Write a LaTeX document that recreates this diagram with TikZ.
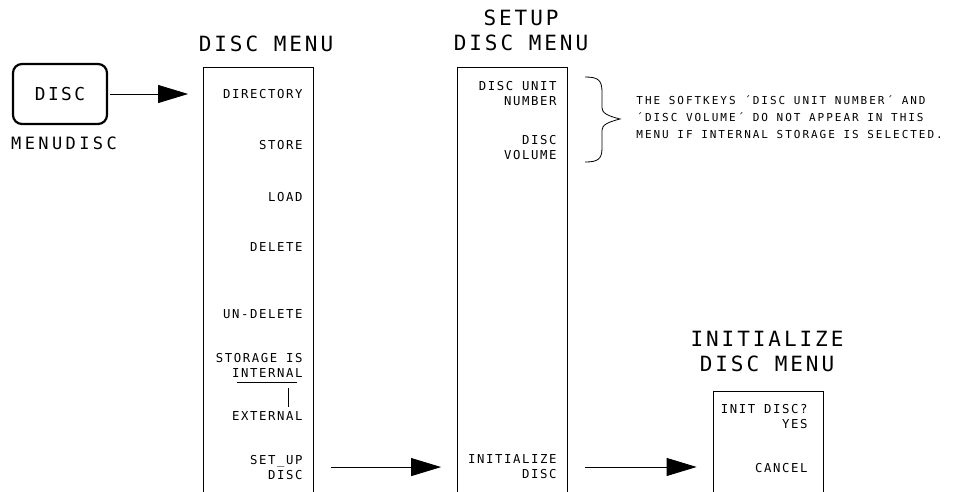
\documentclass[tikz,border=0pt]{standalone}
\usepackage{fontspec}
\usetikzlibrary{arrows.meta,positioning}
\newfontfamily\hpkeyfont{DejaVu Sans Mono}[LetterSpace=14]
\newfontfamily\hpcapfont{DejaVu Sans Mono}[LetterSpace=20]
\newfontfamily\hptitlefont{DejaVu Sans Mono}[LetterSpace=14]
\newfontfamily\hplabelfont{DejaVu Sans Mono}[LetterSpace=13]
\newfontfamily\hpnotefont{DejaVu Sans Mono}[LetterSpace=18]

\begin{document}
\begin{tikzpicture}[
  x=1pt,y=-1pt,
  line width=0.8pt,
  menubox/.style={
    draw,
    minimum width=110pt,
    minimum height=440pt,
    anchor=north,
    inner sep=0pt
  },
  softkey/.style={
    draw,
    line width=2.2pt,
    rounded corners=9pt,
    minimum width=94pt,
    minimum height=60pt,
    font=\hpkeyfont\fontsize{17.8}{20}\selectfont
  },
  menutitle/.style={anchor=north,align=center,inner sep=0pt,
    font=\hptitlefont\fontsize{21}{25.5}\selectfont},
  keylabel/.style={anchor=north east,align=right,inner sep=0pt,
    font=\hplabelfont\fontsize{12.3}{15}\selectfont},
  arrow/.style={-{Triangle[length=30pt,width=18pt]},
    shorten <=17pt,shorten >=16pt}
]
  \useasboundingbox (0,0) rectangle (968,491);
  \clip (0,0) rectangle (968,491);

  % hard key
  \node[softkey] (disckey) at (60,94) {DISC};
  \node[below=11pt of disckey,xshift=4pt,inner sep=0pt,
    font=\hpcapfont\fontsize{17}{20}\selectfont] (menudisc) {MENUDISC};

  % menus
  \node[menubox] (discmenu) at (258.5,67) {};
  \node[menubox] (setupmenu) at (512.5,67) {};
  \node[menubox] (initmenu) at (768,391) {};

  \node[menutitle] (disctitle) at (266,35.3) {DISC MENU};
  \node[menutitle] (setuptitle) at (521,9.3) {SETUP\\DISC MENU};
  \node[menutitle] (inittitle) at (767,330.3) {INITIALIZE\\DISC MENU};

  % softkeys of the disc menu
  \node[keylabel] (directory) at (303,88.5) {DIRECTORY};
  \node[keylabel] (store) at (303,139.5) {STORE};
  \node[keylabel] (load) at (303,191.5) {LOAD};
  \node[keylabel] (delete) at (303,242.5) {DELETE};
  \node[keylabel] (undelete) at (303,309.5) {UN-DELETE};
  \node[keylabel] (storage) at (303,352.5) {STORAGE IS\\INTERNAL};
  \node[keylabel] (external) at (303,411.5) {EXTERNAL};
  \node[keylabel] (setupdisc) at (303,454.5) {SET\_UP\\DISC};

  \draw (237,382) -- (297,382);
  \coordinate (toggle) at (288,388);
  \draw (toggle) -- ([yshift=4.5pt]toggle |- external.north);

  % softkeys of the setup menu
  \node[keylabel] (unitnumber) at (557,80.5) {DISC UNIT\\NUMBER};
  \node[keylabel] (volume) at (557,134.5) {DISC\\VOLUME};
  \node[keylabel] (initialize) at (557,454.5) {INITIALIZE\\DISC};

  % softkeys of the initialize menu
  \node[keylabel] (initdisc) at (808,403.5) {INIT DISC?\\YES};
  \node[keylabel] (cancel) at (808,462.5) {CANCEL};

  % brace and note
  \draw (585,77) .. controls (598,77) and (602,80) .. (602,92)
    -- (602,108) .. controls (602,113) and (608,116) .. (620,119)
    .. controls (608,122) and (602,125) .. (602,130)
    -- (602,148) .. controls (602,159) and (598,162) .. (585,162);
  \node[anchor=west,align=left,inner sep=0pt,
    font=\hpnotefont\fontsize{11}{17}\selectfont] (softkeynote) at (636,117)
    {THE SOFTKEYS ´DISC UNIT NUMBER´ AND\\
     ´DISC VOLUME´ DO NOT APPEAR IN THIS\\
     MENU IF INTERNAL STORAGE IS SELECTED.};

  \draw[arrow,shorten <=2pt,shorten >=15pt] (disckey) -- (discmenu.west |- disckey);
  \draw[arrow] (discmenu.east |- setupdisc) -- (setupmenu.west |- setupdisc);
  \draw[arrow] (setupmenu.east |- initialize) -- (initmenu.west |- initialize);
\end{tikzpicture}
\end{document}
